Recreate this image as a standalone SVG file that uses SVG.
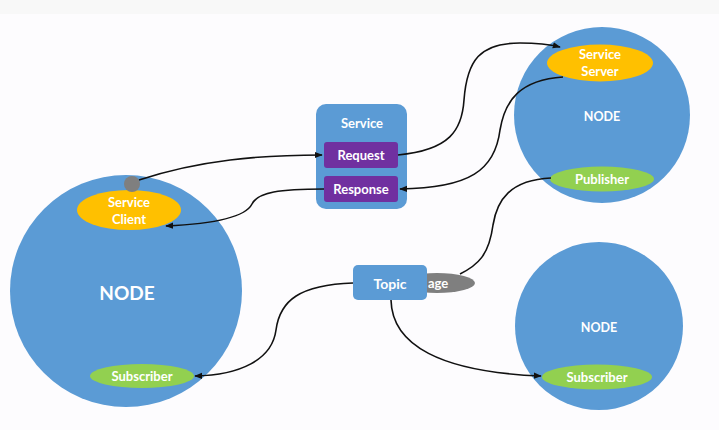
<svg xmlns="http://www.w3.org/2000/svg" width="719" height="430" viewBox="0 0 719 430">
  <defs>
    <marker id="arrow" viewBox="0 0 10 10" refX="9" refY="5" markerWidth="5" markerHeight="5" orient="auto">
      <path d="M0,1 L10,5 L0,9 z" fill="#111"/>
    </marker>
    <style>
      .node { fill: #5b9bd5; }
      .client { fill: #ffc000; }
      .pubsub { fill: #92d050; }
      .msg { fill: #7f7f7f; }
      .box { fill: #5b9bd5; }
      .part { fill: #7030a0; }
      text { font-family: Lato, "Open Sans", "Liberation Sans", sans-serif; font-weight: bold; fill: #ffffff; text-anchor: middle; dominant-baseline: central; }
      .s { font-size: 13px; }
      .n { font-size: 12.5px; }
      .m { font-size: 14px; }
      .big { font-size: 19px; }
      .wire { fill: none; stroke: #111; stroke-width: 1.6; }
    </style>
  </defs>

  <rect x="0" y="0" width="719" height="430" fill="#fdfcfe"/>
  <rect x="0" y="0" width="719" height="14" fill="#f8f8f8"/>

  <!-- left node: service client + subscriber -->
  <g id="node-left">
    <circle class="node" cx="126" cy="291" r="116"/>
    <text class="big" x="127" y="292">NODE</text>
  </g>
  <g id="service-client">
    <ellipse class="client" cx="129" cy="210" rx="52" ry="20"/>
    <text class="s" x="129" y="202">Service</text>
    <text class="s" x="129" y="219">Client</text>
    <circle class="msg" cx="132" cy="184" r="8"/>
  </g>
  <g id="subscriber-left">
    <ellipse class="pubsub" cx="142" cy="376" rx="52" ry="12"/>
    <text class="s" x="142" y="376">Subscriber</text>
  </g>

  <!-- top-right node: service server + publisher -->
  <g id="node-top-right">
    <circle class="node" cx="602" cy="115" r="88"/>
    <text class="n" x="602" y="116">NODE</text>
  </g>
  <g id="service-server">
    <ellipse class="client" cx="600" cy="63" rx="53" ry="18.5"/>
    <text class="s" x="600" y="54">Service</text>
    <text class="s" x="600" y="71">Server</text>
  </g>
  <g id="publisher">
    <ellipse class="pubsub" cx="602" cy="179" rx="52" ry="12.5"/>
    <text class="s" x="602" y="179">Publisher</text>
  </g>

  <!-- bottom-right node: subscriber -->
  <g id="node-bottom-right">
    <circle class="node" cx="599" cy="326" r="84"/>
    <text class="n" x="599" y="327">NODE</text>
  </g>
  <g id="subscriber-right">
    <ellipse class="pubsub" cx="597" cy="377" rx="55" ry="12.5"/>
    <text class="s" x="597" y="377">Subscriber</text>
  </g>

  <!-- service definition -->
  <g id="service">
    <rect class="box" x="316" y="104" width="91" height="105" rx="10"/>
    <text class="s" x="362" y="123">Service</text>
  </g>
  <g id="request">
    <rect class="part" x="324" y="142" width="74" height="26" rx="3"/>
    <text class="s" x="361" y="155">Request</text>
  </g>
  <g id="response">
    <rect class="part" x="324" y="176" width="74" height="26" rx="3"/>
    <text class="s" x="361" y="189">Response</text>
  </g>

  <!-- topic with message -->
  <g id="message">
    <ellipse class="msg" cx="437" cy="283" rx="38" ry="10"/>
    <text class="s" x="428" y="283" style="text-anchor:start">age</text>
  </g>
  <g id="topic">
    <rect class="box" x="353" y="265" width="74" height="35" rx="5"/>
    <text class="m" x="390" y="283">Topic</text>
  </g>

  <g id="connectors">
    <path class="wire" d="M139,180 C200,160 260,155 322,155" marker-end="url(#arrow)"/>
    <path class="wire" d="M398,155 C450,150 462,130 464,100 C467,60 480,43 520,43 C540,43 552,45 560,47" marker-end="url(#arrow)"/>
    <path class="wire" d="M563,77 C520,80 505,100 500,130 C495,170 470,188 400,189" marker-end="url(#arrow)"/>
    <path class="wire" d="M324,189 C280,189 258,192 252,204 C245,218 210,224 166,226" marker-end="url(#arrow)"/>
    <path class="wire" d="M353,283 C300,285 280,300 276,330 C272,360 240,375 195,376" marker-end="url(#arrow)"/>
    <path class="wire" d="M391,300 C392,345 440,372 541,376" marker-end="url(#arrow)"/>
    <path class="wire" d="M551,178 C510,180 497,200 493,225 C489,255 478,265 460,274"/>
  </g>
</svg>
